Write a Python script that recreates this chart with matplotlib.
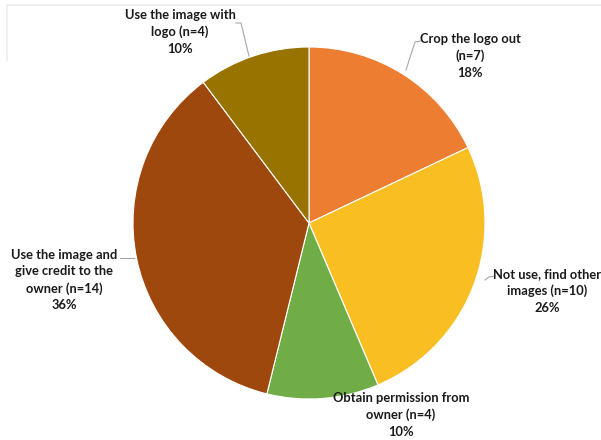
import numpy as np
import matplotlib.pyplot as plt
from matplotlib.lines import Line2D

# Data (clockwise from 12 o'clock)
labels = ['Crop the logo out\n(n=7)',
          'Not use, find other\nimages (n=10)',
          'Obtain permission from\nowner (n=4)',
          'Use the image and\ngive credit to the\nowner (n=14)',
          'Use the image with\nlogo (n=4)']
counts = [7, 10, 4, 14, 4]
colors = ['#ED7D31', '#F9BF22', '#70AD47', '#9E480E', '#997300']

# label text positions (pixel coords) and leader lines
label_pos = [(470, 56), (547, 291), (401, 415), (64, 280), (180, 32)]
leaders = [
    [(421, 41), (415, 42), (406, 70)],
    [(495, 276), (489, 277), (485, 280)],
    [],
    [(120, 258), (134, 258)],
    [(236, 23), (241, 23), (249, 56)],
]

fig = plt.figure(figsize=(6.01, 4.40), dpi=100)
ax = fig.add_axes([0, 0, 1, 1])

cx, cy, r = 309, 223, 176
wedges, _ = ax.pie(counts, colors=colors, startangle=-90, counterclock=True,
                   center=(cx, cy), radius=r,
                   wedgeprops=dict(edgecolor='white', linewidth=0.8))

ax.set_xlim(0, 601)
ax.set_ylim(440, 0)
ax.set_aspect('equal')
ax.axis('off')

total = sum(counts)
for lab, n, (x, y) in zip(labels, counts, label_pos):
    pct = round(100 * n / total)
    ax.text(x, y, f'{lab}\n{pct}%', ha='center', va='center',
            fontsize=9.3, fontweight='bold', family=['Lato', 'DejaVu Sans'],
            color='#1a1a1a', linespacing=1.45)

for pts in leaders:
    if pts:
        xs, ys = zip(*pts)
        ax.plot(xs, ys, color='#a6a6a6', lw=0.8)

# faint chart-area border (top and left)
fig.add_artist(Line2D([7 / 601, 1], [1 - 5 / 440, 1 - 5 / 440],
                      transform=fig.transFigure, color='#ececec', lw=1.2))
fig.add_artist(Line2D([7 / 601, 7 / 601], [1 - 5 / 440, 1 - 60 / 440],
                      transform=fig.transFigure, color='#ececec', lw=1.2))

fig.savefig('out.png', dpi=100, facecolor='white')
